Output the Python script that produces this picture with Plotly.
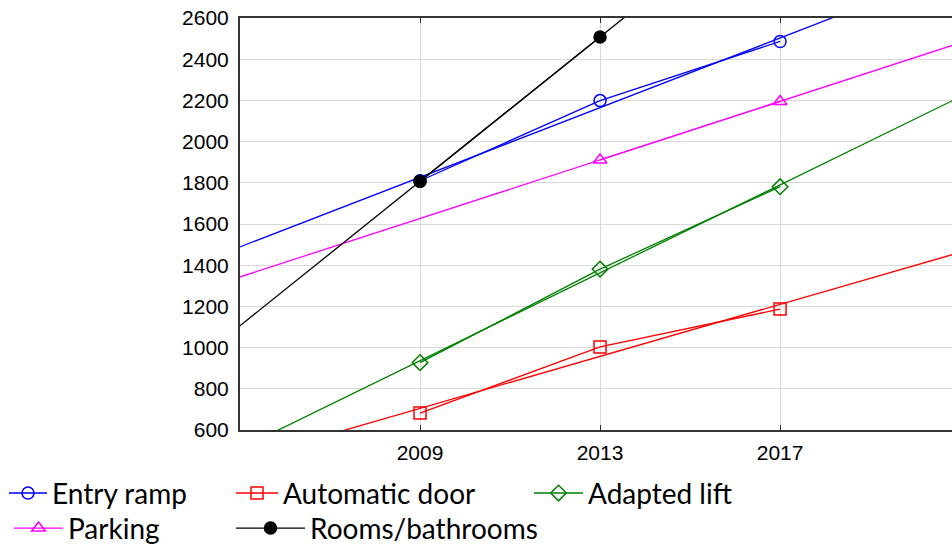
import numpy as np
import plotly.graph_objects as go

years = [2009, 2013, 2017]
entry_ramp = [1810, 2199, 2486]
automatic_door = [682, 1003, 1187]
adapted_lift = [927, 1381, 1781]
parking = [None, 1911, 2195]
rooms_bathrooms = [1807, 2508, None]

series = [
    ("Entry ramp", entry_ramp, "#0000FF", "circle-open"),
    ("Automatic door", automatic_door, "#FF0000", "square-open"),
    ("Adapted lift", adapted_lift, "#008000", "diamond-open"),
    ("Parking", parking, "#FF00FF", "triangle-up-open"),
    ("Rooms/bathrooms", rooms_bathrooms, "#000000", "circle"),
]
# legend placement per entry: (left px, itemwidth px, row)
legend_place = [(4, 38, 0), (231, 42, 0), (529, 49, 0), (9, 49, 1), (231, 69, 1)]

x_range = [2005, 2020.82]
L, PW = 240, 712

fig = go.Figure()
leg_font = dict(family="Lato, sans-serif", size=28, color="black")
legends = {}
for i, ((name, vals, color, symbol), (lx, iw, row)) in enumerate(zip(series, legend_place)):
    leg = "legend" if i == 0 else f"legend{i + 1}"
    xs = [x for x, v in zip(years, vals) if v is not None]
    ys = [v for v in vals if v is not None]
    slope, icpt = np.polyfit(xs, ys, 1)
    fx = np.array([x_range[0] - 1, x_range[1] + 1])
    fig.add_trace(go.Scatter(
        x=fx, y=slope * fx + icpt, mode="lines",
        line=dict(color=color, width=1.3), showlegend=False, hoverinfo="skip"))
    fig.add_trace(go.Scatter(
        x=xs, y=ys, mode="lines+markers", name=name, legend=leg,
        line=dict(color=color, width=1.3),
        marker=dict(symbol=symbol, size=12, color=color,
                    line=dict(color=color, width=1.5))))
    legends[leg] = dict(orientation="h", x=(lx - L) / PW, xanchor="left",
                        y=-0.093 if row == 0 else -0.178, yanchor="top",
                        font=leg_font, itemwidth=iw, tracegroupgap=0,
                        bgcolor="rgba(0,0,0,0)")

fig.update_layout(
    width=952, height=546,
    margin=dict(l=240, r=0, t=18, b=116, autoexpand=False),
    plot_bgcolor="white", paper_bgcolor="white",
    font=dict(family="Liberation Sans, Arial, sans-serif", size=21, color="black"),
    showlegend=True,
    **legends,
)
fig.update_xaxes(
    range=x_range, tickvals=years, ticktext=["2009", "2013", "2017"],
    showgrid=True, gridcolor="#d9d9d9", gridwidth=1,
    showline=True, linecolor="#333333", linewidth=2, mirror="ticks",
    ticks="inside", ticklen=5, tickcolor="#333333", zeroline=False,
    tickfont=dict(size=21), ticklabelstandoff=3,
)
fig.update_yaxes(
    range=[600, 2600], tickvals=list(range(600, 2601, 200)),
    showgrid=True, gridcolor="#d9d9d9", gridwidth=1,
    showline=True, linecolor="#333333", linewidth=2, mirror=False,
    ticks="", zeroline=False, tickfont=dict(size=21), ticklabelstandoff=5,
)

fig.write_html("out.html", config={"displayModeBar": False},
               post_script="document.body.style.margin='0';")
